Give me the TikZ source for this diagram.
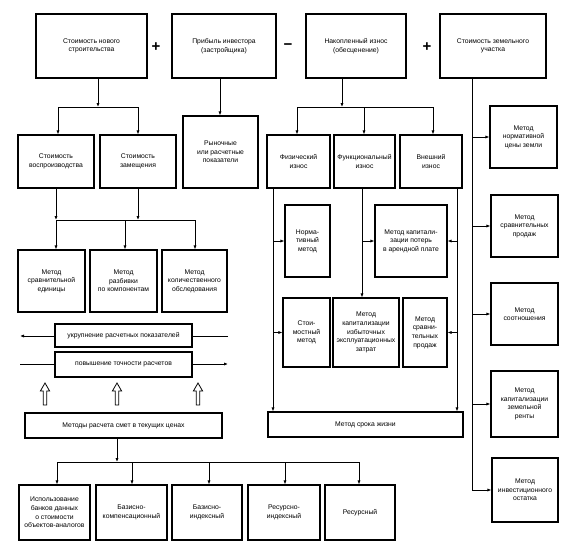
\documentclass[tikz,border=0pt]{standalone}
\usepackage{fontspec}
\setmainfont{Liberation Sans}
\usetikzlibrary{arrows.meta}
\newcommand\mkbox[6]{\node[bx, minimum width={(#4-#2)*1pt}, minimum height={(#5-#3)*1pt}] (#1) at ({(#2+#4)/2},{(#3+#5)/2}) {#6};}
\begin{document}
\begin{tikzpicture}[x=1pt,y=-1pt,
  bx/.style={draw, line width=1.2pt, fill=white, align=center, inner sep=1pt, font=\fontsize{6.8}{8.6}\selectfont},
  ln/.style={line width=0.8pt},
  arr/.style={ln, -{Latex[length=4pt,width=3.2pt]}},
  sgn/.style={font=\fontsize{15}{15}\selectfont\bfseries, inner sep=0pt},
  hollow/.style={line width=0.8pt, fill=white}]
\useasboundingbox (0,0) rectangle (572,549);

% top row
\mkbox{top1}{36}{14}{147}{78}{Стоимость нового\\строительства}
\mkbox{top2}{172}{14}{276}{78}{Прибыль инвестора\\(застройщика)}
\mkbox{top3}{306}{14}{406}{78}{Накопленный износ\\(обесценение)}
\mkbox{top4}{440}{14}{546}{78}{Стоимость земельного\\участка}
\node[sgn] (plus1) at (156,47) {+};
\node[sgn] (minus1) at (288,47) {−};
\node[sgn] (plus2) at (427,47) {+};

% second row
\mkbox{vosp}{18}{135}{94}{188}{Стоимость\\воспроизводства}
\mkbox{zam}{100}{135}{176}{188}{Стоимость\\замещения}
\mkbox{rynok}{183}{116}{258}{188}{Рыночные\\или расчетные\\показатели}
\mkbox{fiz}{267}{135}{330}{188}{Физический\\износ}
\mkbox{func}{334}{135}{395}{188}{Функциональный\\износ}
\mkbox{vnesh}{400}{135}{462}{188}{Внешний\\износ}

% methods left
\mkbox{m1}{18}{250}{85}{312}{Метод\\сравнительной\\единицы}
\mkbox{m2}{90}{250}{157}{312}{Метод\\разбивки\\по компонентам}
\mkbox{m3}{162}{250}{227}{312}{Метод\\количественного\\обследования}
\mkbox{ukr}{55}{324}{192}{347}{укрупнение расчетных показателей}
\mkbox{pov}{55}{352}{192}{377}{повышение точности расчетов}
\mkbox{smet}{25}{413}{222}{438}{Методы расчета смет в текущих ценах}

% bottom row
\mkbox{b1}{19}{485}{90}{540}{Использование\\банков данных\\о стоимости\\объектов-аналогов}
\mkbox{b2}{96}{485}{167}{540}{Базисно-\\компенсационный}
\mkbox{b3}{172}{485}{242}{540}{Базисно-\\индексный}
\mkbox{b4}{248}{485}{320}{540}{Ресурсно-\\индексный}
\mkbox{b5}{325}{485}{395}{540}{Ресурсный}

% depreciation methods
\mkbox{norm}{285}{205}{330}{277}{Норма-\\тивный\\метод}
\mkbox{kappot}{375}{205}{447}{277}{Метод капитали-\\зации потерь\\в арендной плате}
\mkbox{stoim}{283}{298}{330}{367}{Стои-\\мостный\\метод}
\mkbox{kapizb}{333}{298}{399}{367}{Метод\\капитализации\\избыточных\\эксплуатационных\\затрат}
\mkbox{sravn}{403}{298}{447}{367}{Метод\\сравни-\\тельных\\продаж}
\mkbox{srok}{268}{412}{463}{437}{Метод срока жизни}

% land methods
\mkbox{r1}{490}{106}{557}{168}{Метод\\нормативной\\цены земли}
\mkbox{r2}{491}{195}{558}{257}{Метод\\сравнительных\\продаж}
\mkbox{r3}{491}{283}{558}{345}{Метод\\соотношения}
\mkbox{r4}{491}{371}{558}{437}{Метод\\капитализации\\земельной\\ренты}
\mkbox{r5}{492}{458}{558}{522}{Метод\\инвестиционного\\остатка}

% coordinates
\coordinate (j1) at (98,107);
\coordinate (j1L) at (58,107);
\coordinate (j1R) at (138,107);
\coordinate (c2) at (220,0);
\coordinate (j3) at (342,107);
\coordinate (j3L) at (297,107);
\coordinate (j3M) at (364,107);
\coordinate (j3R) at (433,107);
\coordinate (v4) at (472,0);
\coordinate (h2L) at (56,220);
\coordinate (h2M) at (125,220);
\coordinate (h2R) at (195,220);
\coordinate (uL) at (20,336);
\coordinate (uR) at (228,336);
\coordinate (pL) at (20,364);
\coordinate (pR) at (228,364);
\coordinate (s1) at (117,462);
\coordinate (sA) at (57,462);
\coordinate (sB) at (132,462);
\coordinate (sC) at (209,462);
\coordinate (sD) at (285,462);
\coordinate (sE) at (359,462);
\coordinate (fz) at (273,0);
\coordinate (fc) at (362,0);
\coordinate (vn) at (457,0);

% connectors top
\draw[arr] (top1.south -| j1) -- (j1);
\draw[ln] (j1L) -- (j1R);
\draw[arr] (j1L) -- (vosp.north -| j1L);
\draw[arr] (j1R) -- (zam.north -| j1R);
\draw[arr] (top2.south -| c2) -- (rynok.north -| c2);
\draw[arr] (top3.south -| j3) -- (j3);
\draw[ln] (j3L) -- (j3R);
\draw[arr] (j3L) -- (fiz.north -| j3L);
\draw[arr] (j3M) -- (func.north -| j3M);
\draw[arr] (j3R) -- (vnesh.north -| j3R);

% land
\draw[ln] (top4.south -| v4) -- (r5.west -| v4);
\foreach \r in {r1,r2,r3,r4,r5} \draw[arr] (\r.west -| v4) -- (\r.west);

% reproduction
\draw[arr] (vosp.south) -- (vosp.south |- h2L);
\draw[arr] (zam.south) -- (zam.south |- h2L);
\draw[ln] (h2L) -- (h2R);
\draw[arr] (h2L) -- (m1.north -| h2L);
\draw[arr] (h2M) -- (m2.north -| h2M);
\draw[arr] (h2R) -- (m3.north -| h2R);

% side arrows
\draw[ln] (uR) -- (ukr.east |- uR);
\draw[arr] (ukr.west |- uL) -- (uL);
\draw[ln] (pL) -- (pov.west |- pL);
\draw[arr] (pov.east |- pR) -- (pR);

% hollow arrows
\foreach \x in {45,117,198}
  \draw[hollow] (\x-1.8,405) -- (\x-1.8,391) -- (\x-4.6,391) -- (\x,383) -- (\x+4.6,391) -- (\x+1.8,391) -- (\x+1.8,405) -- cycle;

% estimate methods
\draw[arr] (smet.south -| s1) -- (s1);
\draw[ln] (sA) -- (sE);
\draw[arr] (sA) -- (b1.north -| sA);
\draw[arr] (sB) -- (b2.north -| sB);
\draw[arr] (sC) -- (b3.north -| sC);
\draw[arr] (sD) -- (b4.north -| sD);
\draw[arr] (sE) -- (b5.north -| sE);

% depreciation
\draw[arr] (fiz.south -| fz) -- (srok.north -| fz);
\draw[arr] (norm.west -| fz) -- (norm.west);
\draw[arr] (stoim.west -| fz) -- (stoim.west);
\draw[arr] (func.south -| fc) -- (kapizb.north -| fc);
\draw[arr] (kappot.west -| fc) -- (kappot.west);
\draw[arr] (vnesh.south -| vn) -- (srok.north -| vn);
\draw[arr] (kappot.east -| vn) -- (kappot.east);
\draw[arr] (sravn.east -| vn) -- (sravn.east);
\end{tikzpicture}
\end{document}
